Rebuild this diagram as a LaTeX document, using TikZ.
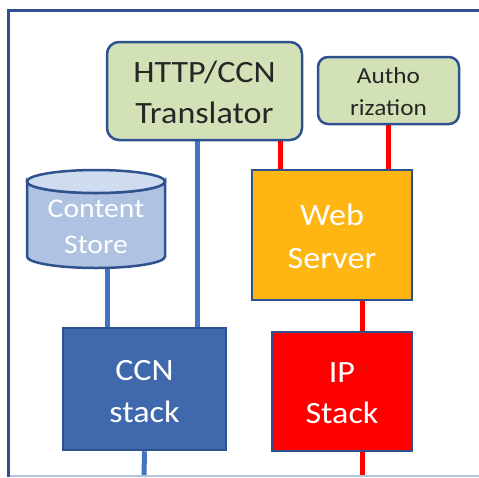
\documentclass[tikz,border=0pt]{standalone}
\usepackage{fontspec}
\newfontfamily\cfont[FakeStretch=1.1]{Carlito}
\definecolor{frameblue}{HTML}{2F528F}
\definecolor{greenfill}{HTML}{D3E2B6}
\definecolor{cylbody}{HTML}{AFC2E2}
\definecolor{cyltop}{HTML}{CFDBEF}
\definecolor{webfill}{HTML}{FFB612}
\definecolor{ccnfill}{HTML}{3F69AC}
\definecolor{ipfill}{HTML}{FF0000}
\definecolor{lineblue}{HTML}{4472C4}
\definecolor{linered}{HTML}{FF0000}
\definecolor{bottomline}{HTML}{B4C3DC}
\pgfdeclarelayer{background}
\pgfsetlayers{background,main}
\tikzset{
  boxbase/.style={draw=frameblue, line width=2.5pt, inner sep=0pt},
  greenbox/.style={boxbase, fill=greenfill, rounded corners=#1},
  txt/.style={anchor=base, inner sep=0pt},
  bigdark/.style={txt, font=\cfont\fontsize{31}{37}\selectfont, text=black!85},
  smalldark/.style={txt, font=\cfont\fontsize{23}{28}\selectfont, text=black!85},
  bigwhite/.style={txt, font=\cfont\fontsize{31}{37}\selectfont, text=white},
  midwhite/.style={txt, font=\cfont\fontsize{27}{32}\selectfont, text=white},
  bline/.style={draw=lineblue, line width=5pt},
  rline/.style={draw=linered, line width=5pt},
}
\begin{document}
\begin{tikzpicture}[x=1pt,y=-1pt]
\useasboundingbox (0,0) rectangle (479,477);
% frame
\draw[bottomline, line width=1.2pt] (8,476) -- (479,476);
\draw[frameblue, line width=3pt] (479,10) -- (8,10) -- (8,476.5);

\coordinate (bot1) at (144,477);
\coordinate (bot2) at (362,477);

% boxes
\node[greenbox=12pt, minimum width=195pt, minimum height=98pt] (tr) at (204.5,91) {};
\node[greenbox=10pt, minimum width=141pt, minimum height=67pt] (au) at (388.5,90.5) {};
\node[boxbase, fill=webfill, minimum width=160pt, minimum height=130pt] (ws) at (332,235) {};
\node[boxbase, fill=ccnfill, minimum width=163pt, minimum height=122pt] (ccn) at (144.5,389) {};
\node[boxbase, fill=ipfill, minimum width=140pt, minimum height=119pt] (ip) at (342,391.5) {};

% cylinder (Content Store)
\node[minimum width=138pt, minimum height=98pt, inner sep=0pt] (cs) at (96,219) {};
\filldraw[draw=frameblue, fill=cylbody, line width=2.5pt]
  (27,181.5) -- (27,256.5) arc[start angle=180, end angle=360, x radius=69pt, y radius=11.5pt]
  -- (165,181.5) arc[start angle=0, end angle=180, x radius=69pt, y radius=-11.5pt] -- cycle;
\filldraw[draw=frameblue, fill=cyltop, line width=2.5pt] (96,181.5) ellipse[x radius=69pt, y radius=11.5pt];

% connectors
\begin{pgfonlayer}{background}
\path[bline] (tr.south -| 197,0) -- (197,0 |- ccn.north);
\path[bline] (cs.south -| 107,0) -- (107,0 |- ccn.north);
\path[bline] (ccn.south) -- (bot1);
\path[rline] (tr.south -| 280,0) -- (280,0 |- ws.north);
\path[rline] (au.south -| 388,0) -- (388,0 |- ws.north);
\path[rline] (ws.south -| 362,0) -- (362,0 |- ip.north);
\path[rline] (ip.south -| 362,0) -- (bot2);
\end{pgfonlayer}

% texts
\node[bigdark] (t1) at (204.5,82) {HTTP/CCN};
\node[bigdark] (t2) at (204.5,123) {Translator};
\node[smalldark] (a1) at (388.5,83) {Autho};
\node[smalldark] (a2) at (388.5,115) {rization};
\node[midwhite] (c1) at (96,217) {Content};
\node[midwhite] (c2) at (96,253) {Store};
\node[bigwhite] (w1) at (332,225) {Web};
\node[bigwhite] (w2) at (332,268) {Server};
\node[bigwhite] (n1) at (144.5,380) {CCN};
\node[bigwhite] (n2) at (144.5,422) {stack};
\node[bigwhite] (i1) at (342,382) {IP};
\node[bigwhite] (i2) at (342,423) {Stack};
\end{tikzpicture}
\end{document}
